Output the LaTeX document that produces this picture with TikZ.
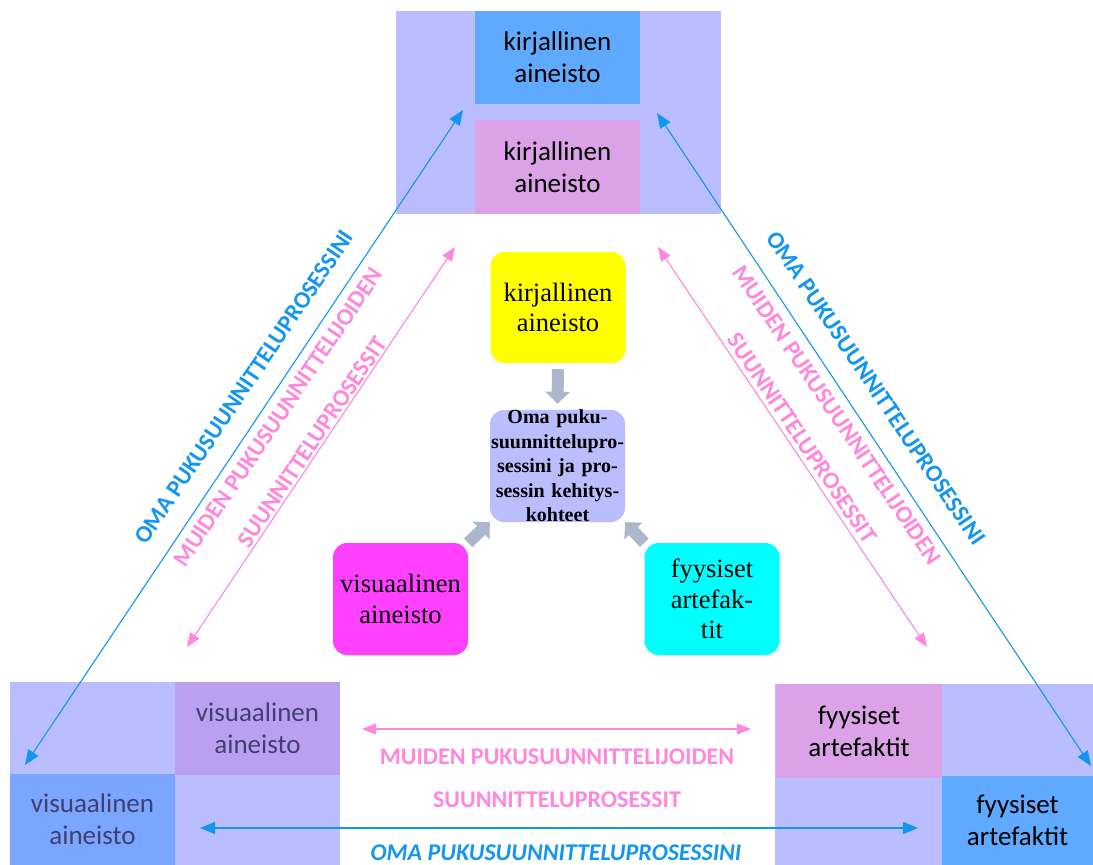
\documentclass[tikz,border=0pt]{standalone}
\usepackage{fontspec}
\setmainfont{Liberation Serif}
\newfontfamily\calibri{Carlito}
\usetikzlibrary{arrows.meta}

\definecolor{laventeli}{RGB}{186,190,255}
\definecolor{sininen}{RGB}{95,170,255}
\definecolor{vaaleansin}{RGB}{122,166,255}
\definecolor{orkidea}{RGB}{220,162,232}
\definecolor{violetti}{RGB}{187,160,242}
\definecolor{nuolisin}{RGB}{20,150,240}
\definecolor{pinkki}{RGB}{255,136,221}
\definecolor{harmaa}{RGB}{172,183,203}
\definecolor{tumma}{RGB}{64,64,112}
\definecolor{purppura}{RGB}{255,64,255}
\definecolor{keltainen}{RGB}{255,255,0}
\definecolor{syaani}{RGB}{0,255,255}

\tikzset{
  ruutu/.style 2 args={minimum width=#1pt, minimum height=#2pt, inner sep=0pt, align=center,
    font=\calibri\fontsize{27}{32}\selectfont},
  kulma/.style 2 args={ruutu={#1}{#2}, rounded corners=14pt, font=\fontsize{26.5}{30.5}\selectfont},
  sininuoli/.style={nuolisin, line width=1.1pt, {Triangle[length=15pt,width=12pt]}-{Triangle[length=15pt,width=12pt]}},
  pinkkinuoli/.style={pinkki, line width=1.1pt, {Triangle[length=14pt,width=11pt]}-{Triangle[length=14pt,width=11pt]}},
  paksu/.style={harmaa, line width=12pt, -{Triangle[length=12pt,width=24pt]}},
  vino/.style={font=\calibri\bfseries\fontsize{24}{28}\selectfont, inner sep=0pt},
}

\begin{document}
\begin{tikzpicture}[x=1pt,y=-1pt]
\useasboundingbox (0,0) rectangle (1093,865);

% kulmien taustat
\node[ruutu={325}{203}, fill=laventeli] (ylatausta) at (558.5,112.5) {};
\node[ruutu={165}{93}, fill=sininen] (ylasin) at (557.5,57.5) {kirjallinen\\aineisto};
\node[ruutu={165}{94}, fill=orkidea] (ylapink) at (557.5,167) {kirjallinen\\aineisto};

\node[ruutu={330}{183}, fill=laventeli] (vasentausta) at (175,773.5) {};
\node[ruutu={165}{93}, fill=violetti, text=tumma] (vasenvio) at (257.5,728.5) {visuaalinen\\aineisto};
\node[ruutu={165}{91}, fill=vaaleansin, text=tumma] (vasensin) at (92.5,819.5) {visuaalinen\\aineisto};

\node[ruutu={318}{181}, fill=laventeli] (oikeatausta) at (934,774.5) {};
\node[ruutu={166}{94}, fill=orkidea] (oikeapink) at (859,731) {fyysiset\\artefaktit};
\node[ruutu={151}{89}, fill=sininen] (oikeasin) at (1017.5,820.5) {fyysiset\\artefaktit};

% keskiosa
\node[kulma={135}{111}, fill=keltainen] (kirjallinen) at (558,307.5) {kirjallinen\\aineisto};
\node[kulma={135}{112}, fill=laventeli, text width=135pt, font=\bfseries\fontsize{20}{24.5}\selectfont] (oma) at (557.5,466) {Oma puku-\\suunnittelupro-\\sessini ja pro-\\sessin kehitys-\\kohteet};
\node[kulma={135}{112}, fill=purppura] (visuaalinen) at (400.5,599) {visuaalinen\\aineisto};
\node[kulma={135}{112}, fill=syaani] (fyysiset) at (712,599) {fyysiset\\artefak-\\tit};

\draw[paksu] ([yshift=-6pt]kirjallinen.south) -- ([yshift=6pt]oma.north);
\draw[paksu] (visuaalinen.north east) -- (oma.south west);
\draw[paksu] (fyysiset.north west) -- (oma.south east);

% nuolet
\coordinate (sv1) at (463,110);
\coordinate (sv2) at (25,765);
\coordinate (so1) at (657,113);
\coordinate (so2) at (1091,766);
\coordinate (pv1) at (455,247);
\coordinate (pv2) at (187,647);
\coordinate (po1) at (658,247);
\coordinate (po2) at (927,647);
\coordinate (pa1) at (362,729);
\coordinate (pa2) at (751,729);
\coordinate (sa1) at (200,828);
\coordinate (sa2) at (918,828);

\draw[sininuoli] (sv1) -- (sv2);
\draw[sininuoli] (so1) -- (so2);
\draw[pinkkinuoli] (pv1) -- (pv2);
\draw[pinkkinuoli] (po1) -- (po2);
\draw[pinkkinuoli] (pa1) -- (pa2);
\draw[sininuoli] (sa1) -- (sa2);

% tekstit
\node[vino, text=nuolisin, rotate=56] (omavas) at (244,387) {OMA PUKUSUUNNITTELUPROSESSINI};
\node[vino, text=pinkki, rotate=56] (muidenvas) at (278,417) {MUIDEN PUKUSUUNNITTELIJOIDEN};
\node[vino, text=pinkki, rotate=56] (suunvas) at (312,442) {SUUNNITTELUPROSESSIT};
\node[vino, text=nuolisin, rotate=-56] (omaoik) at (876,388) {OMA PUKUSUUNNITTELUPROSESSINI};
\node[vino, text=pinkki, rotate=-56] (muidenoik) at (837,415) {MUIDEN PUKUSUUNNITTELIJOIDEN};
\node[vino, text=pinkki, rotate=-56] (suunoik) at (802,438) {SUUNNITTELUPROSESSIT};

\node[vino, text=pinkki] (muidenala) at (557,757) {MUIDEN PUKUSUUNNITTELIJOIDEN};
\node[vino, text=pinkki] (suunala) at (557,800) {SUUNNITTELUPROSESSIT};
\node[vino, text=nuolisin, font=\calibri\bfseries\itshape\fontsize{24}{28}\selectfont] (omaala) at (556,853) {OMA PUKUSUUNNITTELUPROSESSINI};

\end{tikzpicture}
\end{document}
